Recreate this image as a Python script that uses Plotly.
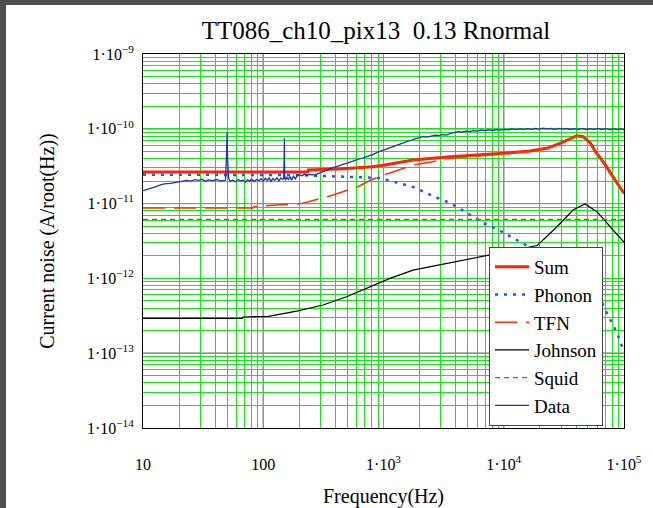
import plotly.graph_objects as go

# ---------------- data ----------------
sum_f = [10, 234, 237, 460, 800, 1000, 1760, 3370, 9900, 16500, 22700, 29400,
         40500, 45700, 52500, 57500, 67600, 81300, 100000]
sum_v = [2.64e-11, 2.64e-11, 2.81e-11, 2.92e-11, 3.12e-11, 3.25e-11, 3.83e-11, 4.20e-11,
         4.70e-11, 5.05e-11, 5.48e-11, 6.40e-11, 8.09e-11, 7.85e-11, 6.46e-11, 5.01e-11,
         3.55e-11, 2.29e-11, 1.37e-11]

phonon_f = [10, 200, 935, 1758, 2582, 3573, 4943, 6714, 8790, 11940, 16520, 20000,
            33570, 43050, 50230, 56000, 65610, 76560, 87500, 100000]
phonon_v = [2.44e-11, 2.40e-11, 2.20e-11, 1.67e-11, 1.26e-11, 1.02e-11, 7.48e-12, 5.51e-12,
            4.57e-12, 3.47e-12, 2.55e-12, 2.19e-12, 1.87e-12, 1.76e-12, 1.18e-12, 7.0e-13,
            4.69e-13, 2.78e-13, 1.86e-13, 1.05e-13]

tfn_f = [10, 82, 83, 143, 214, 380, 614, 730, 991, 1132, 1758, 2582, 3373, 9900, 16500,
         22700, 29400, 40500, 45700, 52500, 57500, 67600, 81300, 100000]
tfn_v = [8.73e-12, 8.73e-12, 9.10e-12, 9.57e-12, 1.01e-11, 1.30e-11, 1.68e-11, 1.96e-11,
         2.41e-11, 2.56e-11, 3.28e-11, 3.63e-11, 4.00e-11, 4.60e-11, 4.98e-11, 5.42e-11,
         6.35e-11, 8.05e-11, 7.80e-11, 6.42e-11, 4.98e-11, 3.53e-11, 2.27e-11, 1.36e-11]

johnson_f = [10, 67, 68, 110, 190, 314, 494, 773, 1132, 1758, 3373, 6353, 11940, 19000,
             27730, 37670, 47420, 59570, 81100, 100000]
johnson_v = [2.92e-13, 2.92e-13, 3.05e-13, 3.11e-13, 3.66e-13, 4.41e-13, 5.69e-13, 7.74e-13,
             1.00e-12, 1.29e-12, 1.59e-12, 1.95e-12, 2.40e-12, 2.75e-12, 4.91e-12, 8.20e-12,
             9.89e-12, 7.80e-12, 4.44e-12, 3.05e-12]

squid_f = [10, 100000]
squid_v = [6.17e-12, 6.17e-12]

data_f = [10, 11, 12.5, 14, 15, 17, 19, 21, 23, 25, 27, 29, 31, 33, 35, 38, 41, 44, 47,
          48.5, 49.5, 50, 50.5, 51.5, 53, 56, 59, 62, 65, 68, 71, 74, 77, 80, 84, 88, 92,
          96, 100, 104, 108, 112, 116, 120, 125, 130, 135, 140, 145, 148, 149.5, 150,
          150.5, 153, 157, 162, 167, 172, 178, 185, 192, 200, 210, 220, 230, 245, 260,
          280, 300, 320, 345, 370, 400, 430, 460, 500, 540, 580, 620, 670, 720, 770, 830,
          890, 950, 1020, 1100, 1180, 1270, 1370, 1480, 1600, 1720, 1850, 2000, 2150,
          2300, 2500, 2700, 2900, 3100, 3350, 3600, 3900, 4200, 4500, 4850, 5200, 5600,
          6000, 6500, 7000, 7500, 8100, 8700, 9400, 10100, 10900, 11700, 12600, 13600,
          14600, 15800, 17000, 18300, 19700, 21200, 22900, 24700, 26600, 28700, 30900,
          33300, 35900, 38700, 41700, 45000, 48500, 52200, 56300, 60700, 65400, 70500,
          76000, 81900, 88300, 95100, 100000]
data_v = [1.49e-11, 1.55e-11, 1.66e-11, 1.78e-11, 1.84e-11, 1.86e-11, 1.93e-11, 1.98e-11,
          2.04e-11, 2.00e-11, 2.09e-11, 2.05e-11, 2.12e-11, 1.98e-11, 2.08e-11, 2.03e-11,
          2.10e-11, 2.01e-11, 2.07e-11, 2.05e-11, 4.5e-11, 9.0e-11, 4.0e-11, 2.2e-11,
          1.98e-11, 2.06e-11, 1.96e-11, 2.10e-11, 2.00e-11, 2.05e-11, 1.94e-11, 2.08e-11,
          2.00e-11, 2.12e-11, 1.97e-11, 2.10e-11, 2.02e-11, 2.15e-11, 2.00e-11, 2.18e-11,
          2.04e-11, 2.20e-11, 1.98e-11, 2.16e-11, 2.05e-11, 2.22e-11, 2.00e-11, 2.20e-11,
          2.10e-11, 2.15e-11, 5.0e-11, 7.5e-11, 2.40e-11, 2.05e-11, 2.25e-11, 2.10e-11,
          2.30e-11, 2.05e-11, 2.32e-11, 2.15e-11, 2.40e-11, 2.42e-11, 2.35e-11, 2.48e-11,
          2.38e-11, 2.45e-11, 2.42e-11, 2.48e-11, 2.60e-11, 2.75e-11, 2.90e-11, 2.98e-11,
          3.10e-11, 3.25e-11, 3.35e-11, 3.48e-11, 3.65e-11, 3.80e-11, 3.92e-11, 4.05e-11,
          4.20e-11, 4.45e-11, 4.60e-11, 4.85e-11, 5.05e-11, 5.30e-11, 5.50e-11, 5.75e-11,
          6.00e-11, 6.30e-11, 6.60e-11, 6.85e-11, 7.05e-11, 7.40e-11, 7.60e-11, 7.85e-11,
          7.75e-11, 8.00e-11, 8.20e-11, 8.10e-11, 8.35e-11, 8.25e-11, 8.70e-11, 8.90e-11,
          9.15e-11, 9.00e-11, 9.30e-11, 9.20e-11, 9.45e-11, 9.30e-11, 9.60e-11, 9.45e-11,
          9.70e-11, 9.50e-11, 9.75e-11, 9.60e-11, 9.85e-11, 9.70e-11, 9.95e-11, 9.75e-11,
          1.00e-10, 9.80e-11, 1.005e-10, 9.85e-11, 1.01e-10, 9.90e-11, 1.02e-10, 9.95e-11,
          1.015e-10, 9.85e-11, 1.01e-10, 9.90e-11, 1.015e-10, 9.80e-11, 1.005e-10, 9.85e-11,
          1.01e-10, 9.80e-11, 1.005e-10, 9.85e-11, 1.01e-10, 9.80e-11, 1.005e-10, 9.75e-11,
          1.00e-10, 9.80e-11, 9.95e-11, 9.70e-11]

x_decades = [10, 100, 1000, 10000, 100000]
x_ticklabels = ["10", "100", "1·10<sup>3</sup>", "1·10<sup>4</sup>", "1·10<sup>5</sup>"]
y_decades = [1e-14, 1e-13, 1e-12, 1e-11, 1e-10, 1e-9]
y_ticklabels = ["1·10<sup>−14</sup>", "1·10<sup>−13</sup>", "1·10<sup>−12</sup>",
                "1·10<sup>−11</sup>", "1·10<sup>−10</sup>", "1·10<sup>−9</sup>"]

# ---------------- figure ----------------
FONT = "Liberation Serif"
W, H = 653, 508
ML, MR, MT, MB = 143, 29, 54, 80
GREEN = "#1fe01f"

fig = go.Figure()
fig.add_trace(go.Scatter(x=sum_f, y=sum_v, name="Sum", mode="lines",
                         line=dict(color="#ff2200", width=3)))
fig.add_trace(go.Scatter(x=phonon_f, y=phonon_v, name="Phonon", mode="lines",
                         line=dict(color="#2255ff", width=2.5, dash="3px,6px")))
fig.add_trace(go.Scatter(x=tfn_f, y=tfn_v, name="TFN", mode="lines",
                         line=dict(color="#ff3300", width=1.5, dash="22px,9px")))
fig.add_trace(go.Scatter(x=johnson_f, y=johnson_v, name="Johnson", mode="lines",
                         line=dict(color="black", width=1.2)))
fig.add_trace(go.Scatter(x=squid_f, y=squid_v, name="Squid", mode="lines",
                         line=dict(color="#ff2a2a", width=1.3, dash="5px,4px")))
fig.add_trace(go.Scatter(x=data_f, y=data_v, name="Data", mode="lines",
                         line=dict(color="#1c36a8", width=1.3)))

def all_log_ticks(lo, hi):
    vals = []
    for e in range(lo, hi):
        for m in range(1, 10):
            vals.append(m * 10.0 ** e)
    vals.append(10.0 ** hi)
    return vals

xt = all_log_ticks(1, 5)
yt = all_log_ticks(-14, -9)

def label_for(v, decades, labels):
    for d, l in zip(decades, labels):
        if abs(v / d - 1) < 1e-6:
            return l
    return ""

shapes = []
for d in x_decades[1:-1]:
    shapes.append(dict(type="line", xref="x", yref="paper", x0=d, x1=d, y0=0, y1=1,
                       line=dict(color="#111111", width=1), layer="between"))
for d in y_decades[1:-1]:
    shapes.append(dict(type="line", xref="paper", yref="y", x0=0, x1=1, y0=d, y1=d,
                       line=dict(color="#111111", width=1), layer="between"))

pw, ph = W - ML - MR, H - MT - MB
px = lambda p: (p - ML) / pw
py = lambda p: (H - MB - p) / ph
shapes.append(dict(type="rect", xref="paper", yref="paper", x0=px(0), x1=px(6),
                   y0=py(H), y1=py(0), fillcolor="#505050", line=dict(width=0), layer="above"))
shapes.append(dict(type="rect", xref="paper", yref="paper", x0=px(0), x1=px(W),
                   y0=py(5), y1=py(0), fillcolor="#505050", line=dict(width=0), layer="above"))

fig.update_layout(
    width=W, height=H,
    margin=dict(l=ML, r=MR, t=MT, b=MB, autoexpand=False),
    paper_bgcolor="white", plot_bgcolor="white",
    font=dict(family=FONT, color="black", size=16),
    title=dict(text="TT086_ch10_pix13 \u00a00.13 Rnormal", x=376 / W, xref="container",
               xanchor="center", y=1 - 30 / H, yref="container", yanchor="middle",
               font=dict(size=25, family=FONT, color="black")),
    showlegend=True,
    legend=dict(x=px(489), y=py(247), xanchor="left", yanchor="top",
                bgcolor="white", bordercolor="#444444", borderwidth=1,
                font=dict(size=19, family=FONT, color="black"),
                tracegroupgap=0, itemwidth=34),
    shapes=shapes,
)
fig.update_xaxes(type="log", range=[1, 5], tickmode="array", tickvals=xt,
                 ticktext=[label_for(v, x_decades, x_ticklabels) for v in xt],
                 showgrid=True, gridcolor=GREEN, gridwidth=1, ticks="", tickangle=0,
                 showline=True, linecolor="black", linewidth=1, mirror=True,
                 zeroline=False, ticklabelstandoff=22, automargin=False,
                 tickfont=dict(size=16, family=FONT, color="black"),
                 title=dict(text="Frequency(Hz)", font=dict(size=20, family=FONT, color="black"),
                            standoff=16))
fig.update_yaxes(type="log", range=[-14, -9], tickmode="array", tickvals=yt,
                 ticktext=[label_for(v, y_decades, y_ticklabels) for v in yt],
                 showgrid=True, gridcolor=GREEN, gridwidth=1, ticks="", tickangle=0,
                 showline=True, linecolor="black", linewidth=1, mirror=True,
                 zeroline=False, ticklabelstandoff=5, automargin=False,
                 tickfont=dict(size=16, family=FONT, color="black"),
                 title=dict(text="Current noise (A/root(Hz))",
                            font=dict(size=20, family=FONT, color="black"), standoff=26))

fig.write_html("out.html")
